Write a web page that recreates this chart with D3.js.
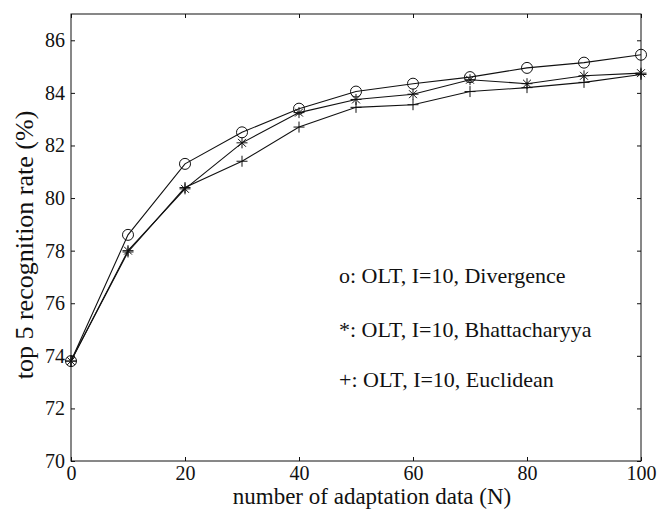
<!doctype html>
<html lang="en">
	<head>
		<meta charset="utf-8" />
		<title>top 5 recognition rate vs. number of adaptation data</title>
		<script type="text/javascript" src="https://cdn.jsdelivr.net/npm/d3@7"></script>
		<style>
			body { margin: 0; background: #fff; }
			text { font-family: "Liberation Serif", "Times New Roman", serif; fill: #111; }
		</style>
	</head>

	<body>
		<script type="text/javascript">
			// adaptation data sizes (x) and the three OLT distance measures
			var adaptationData = [0, 10, 20, 30, 40, 50, 60, 70, 80, 90, 100];
			var divergence = [73.8, 78.6, 81.3, 82.5, 83.4, 84.05, 84.35, 84.6, 84.95, 85.15, 85.45];
			var bhattacharyya = [73.8, 78.0, 80.35, 82.1, 83.25, 83.75, 83.95, 84.5, 84.35, 84.65, 84.75];
			var euclidean = [73.8, 77.95, 80.4, 81.4, 82.7, 83.45, 83.55, 84.05, 84.2, 84.4, 84.7];
			var xTicks = [0, 20, 40, 60, 80, 100];
			var yTicks = [70, 72, 74, 76, 78, 80, 82, 84, 86];
			var legendLabels = ["o: OLT, I=10, Divergence", "*: OLT, I=10, Bhattacharyya", "+: OLT, I=10, Euclidean"];

			var w = 662;
			var h = 510;
			// note: "top" is taken by window.top, so plot edges get their own names
			var plotLeft = 71, plotRight = 641, plotTop = 14, plotBottom = 461;
			var ink = "#111";

			var svg = d3.select("body")
				.append("svg")
				.attr("width", w)
				.attr("height", h);

			svg.append("rect")
				.attr("width", w)
				.attr("height", h)
				.attr("fill", "#fff");

			var x = d3.scaleLinear().domain([0, 100]).range([plotLeft, plotRight]);
			var y = d3.scaleLinear().domain([70, 87]).range([plotBottom, plotTop]);

			// axes, ticks pointing inward like matlab
			var styleAxis = function(g, size) {
				g.select(".domain").remove();
				g.selectAll(".tick line").attr("stroke", ink).attr("stroke-width", 1);
				g.selectAll(".tick text")
					.attr("font-size", size + "px")
					.attr("font-family", "Liberation Serif")
					.attr("fill", ink);
			};

			svg.append("g")
				.attr("transform", "translate(" + plotLeft + ",0)")
				.call(d3.axisLeft(y).tickValues(yTicks).tickSizeInner(-4).tickSizeOuter(0).tickPadding(6))
				.call(styleAxis, 20);
			svg.append("g")
				.attr("transform", "translate(" + plotRight + ",0)")
				.call(d3.axisRight(y).tickValues(yTicks).tickSizeInner(-4).tickSizeOuter(0).tickFormat(""))
				.call(styleAxis, 20);
			svg.append("g")
				.attr("transform", "translate(0," + plotBottom + ")")
				.call(d3.axisBottom(x).tickValues(xTicks).tickSizeInner(-4).tickSizeOuter(0).tickPadding(5))
				.call(styleAxis, 20);
			svg.append("g")
				.attr("transform", "translate(0," + plotTop + ")")
				.call(d3.axisTop(x).tickValues(xTicks).tickSizeInner(-4).tickSizeOuter(0).tickFormat(""))
				.call(styleAxis, 20);

			// frame
			svg.append("rect")
				.attr("x", plotLeft)
				.attr("y", plotTop)
				.attr("width", plotRight - plotLeft)
				.attr("height", plotBottom - plotTop)
				.attr("fill", "none")
				.attr("stroke", ink)
				.attr("stroke-width", 1);

			var line = d3.line()
				.x(function(d, i) { return x(adaptationData[i]); })
				.y(function(d) { return y(d); });

			var series = [
				{ values: divergence, marker: "circle" },
				{ values: bhattacharyya, marker: "star" },
				{ values: euclidean, marker: "plus" }
			];

			series.forEach(function(s) {
				svg.append("path")
					.datum(s.values)
					.attr("d", line)
					.attr("fill", "none")
					.attr("stroke", ink)
					.attr("stroke-width", 1.1);

				var pts = svg.selectAll(null)
					.data(s.values)
					.enter()
					.append("g")
					.attr("transform", function(d, i) {
						return "translate(" + x(adaptationData[i]) + "," + y(d) + ")";
					});

				if (s.marker == "circle") {
					pts.append("circle")
						.attr("r", 5.5)
						.attr("fill", "none")
						.attr("stroke", ink)
						.attr("stroke-width", 1);
				} else {
					var r = 5.5;
					var p = "M" + (-r) + ",0H" + r + "M0," + (-r) + "V" + r;
					if (s.marker == "star") {
						var q = r * 0.72;
						p += "M" + (-q) + "," + (-q) + "L" + q + "," + q + "M" + (-q) + "," + q + "L" + q + "," + (-q);
					}
					pts.append("path")
						.attr("d", p)
						.attr("fill", "none")
						.attr("stroke", ink)
						.attr("stroke-width", 1);
				}
			});

			// legend text inside the plot
			var legendY = [283, 337, 387];
			svg.selectAll(null)
				.data(legendLabels)
				.enter()
				.append("text")
				.attr("x", 339)
				.attr("y", function(d, i) { return legendY[i]; })
				.attr("font-size", "22px")
				.text(function(d) { return d; });

			// axis titles
			svg.append("text")
				.attr("x", 372)
				.attr("y", 504)
				.attr("text-anchor", "middle")
				.attr("font-size", "23px")
				.text("number of adaptation data (N)");

			svg.append("text")
				.attr("transform", "translate(33,245) rotate(-90)")
				.attr("text-anchor", "middle")
				.attr("font-size", "26px")
				.text("top 5 recognition rate (%)");
		</script>
	</body>
</html>
